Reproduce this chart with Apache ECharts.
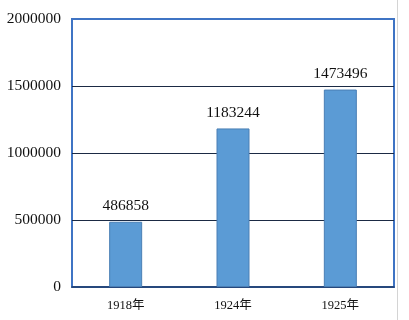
<!DOCTYPE html>
<html><head><meta charset="utf-8">
<script src="https://cdn.jsdelivr.net/npm/echarts@6/dist/echarts.min.js"></script>
<style>html,body{margin:0;padding:0;background:#fff}#c{width:409px;height:320px}</style>
</head><body><div id="c"></div>
<script>
const categories = ['1918年', '1924年', '1925年'];
const values = [486858, 1183244, 1473496];
const yTicks = [0, 500000, 1000000, 1500000, 2000000];

const chart = echarts.init(document.getElementById('c'));
chart.setOption({
  animation: false,
  backgroundColor: '#ffffff',
  grid: {left: 72, top: 19, right: 15, bottom: 33, show: true, borderColor: '#3F74C4', borderWidth: 2, backgroundColor: 'transparent'},
  xAxis: {
    type: 'category', data: categories,
    axisLine: {show: true, lineStyle: {color: '#1F3A66', width: 1.5}},
    axisTick: {show: false},
    axisLabel: {fontFamily: '"Liberation Serif", "Noto Sans CJK SC", serif', fontSize: 12.5, color: '#111', margin: 12}
  },
  yAxis: {
    type: 'value', min: yTicks[0], max: yTicks[yTicks.length - 1], interval: 500000,
    axisLine: {show: false}, axisTick: {show: false},
    splitLine: {showMinLine: false, showMaxLine: false, lineStyle: {color: '#1B2A44', width: 1}},
    axisLabel: {fontFamily: '"Liberation Serif", serif', fontSize: 15.5, color: '#111', margin: 11,
      formatter: v => String(v)}
  },
  graphic: [{type: 'line', shape: {x1: 397.5, y1: 0, x2: 397.5, y2: 320}, style: {stroke: '#D4D4D4', lineWidth: 1}}],
  series: [{
    type: 'bar', data: values, barWidth: 33,
    itemStyle: {color: '#5B9BD5', borderColor: '#4A7FB5', borderWidth: 1},
    label: {show: true, position: 'top', distance: 8, fontFamily: '"Liberation Serif", serif', fontSize: 15.5, color: '#111'}
  }]
});
</script></body></html>
